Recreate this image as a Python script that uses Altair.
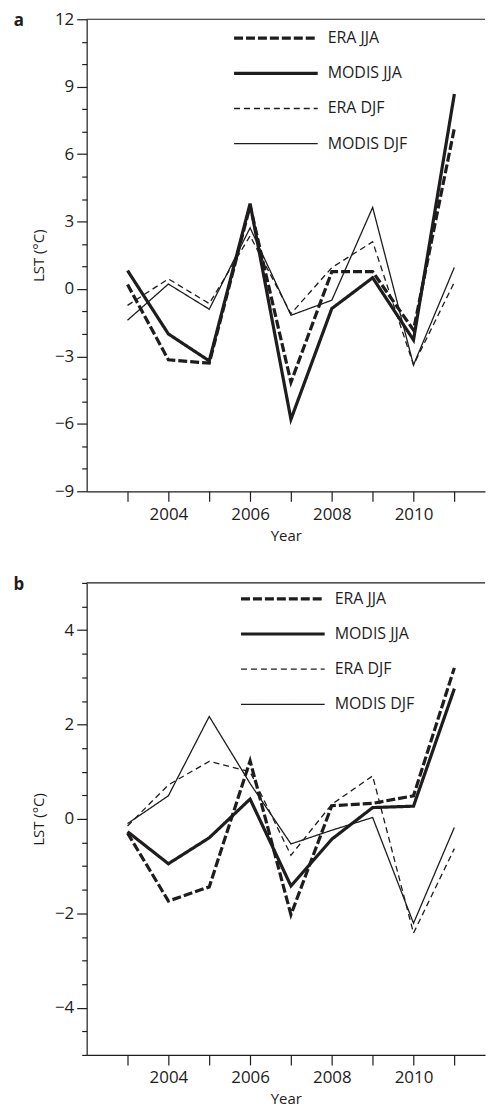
import altair as alt
import pandas as pd

INK = "#1e1c1c"
FONT = "Open Sans"

years = [2003, 2004, 2005, 2006, 2007, 2008, 2009, 2010, 2011]
series = ["ERA JJA", "MODIS JJA", "ERA DJF", "MODIS DJF"]

# panel a
a_era_jja = [0.2, -3.15, -3.3, 3.7, -4.15, 0.77, 0.77, -1.83, 7.15]
a_modis_jja = [0.82, -2.0, -3.2, 3.8, -5.8, -0.87, 0.5, -2.27, 8.67]
a_era_djf = [-0.73, 0.45, -0.65, 2.36, -1.1, 0.95, 2.1, -3.38, 0.3]
a_modis_djf = [-1.39, 0.22, -0.9, 2.72, -1.17, -0.5, 3.63, -3.38, 0.96]

# panel b
b_era_jja = [-0.3, -1.74, -1.44, 1.23, -2.03, 0.28, 0.33, 0.49, 3.2]
b_modis_jja = [-0.27, -0.95, -0.4, 0.42, -1.42, -0.43, 0.24, 0.27, 2.76]
b_era_djf = [-0.15, 0.72, 1.22, 1.0, -0.77, 0.31, 0.91, -2.42, -0.63]
b_modis_djf = [-0.1, 0.49, 2.17, 0.75, -0.53, -0.24, 0.03, -2.21, -0.18]

a_ticks = list(range(-9, 13))
b_ticks = [v / 2 for v in range(-10, 11)]

W = 400
H = 474

DASH = alt.Scale(domain=series, range=[[9, 3], [1, 0], [6, 4], [1, 0]])
WIDTH_EXPR = "indexof(datum.series, 'JJA') >= 0 ? 3.2 : 1.3"


def frame(vals):
    rows = []
    for name, arr in zip(series, vals):
        for yr, v in zip(years, arr):
            rows.append({"year": yr, "value": v, "series": name})
    return pd.DataFrame(rows)


def panel(df, domain, ticks, major, tag, lx, ly):
    base = alt.Chart(df).transform_calculate(w=WIDTH_EXPR)
    lines = base.mark_line(color=INK, strokeJoin="miter", strokeCap="butt").encode(
        x=alt.X(
            "year:Q",
            scale=alt.Scale(domain=[2002, 2011.75], nice=False, zero=False),
            axis=alt.Axis(
                values=years,
                labelExpr="datum.value % 2 == 0 ? '' + datum.value : ''",
                title="Year",
                tickSize=10,
                labelPadding=5,
                titlePadding=6,
                grid=False,
            ),
        ),
        y=alt.Y(
            "value:Q",
            scale=alt.Scale(domain=domain, nice=False, zero=False),
            axis=alt.Axis(
                values=ticks,
                labelExpr=f"datum.value % {major} == 0 ? format(datum.value, 'd') : ''",
                title="LST (°C)",
                tickSize={"condition": {"test": f"datum.value % {major} == 0", "value": 10}, "value": 5},
                labelPadding=3,
                titlePadding=8,
                grid=False,
            ),
        ),
        strokeDash=alt.StrokeDash("series:N", scale=DASH, legend=None),
        strokeWidth=alt.StrokeWidth("w:Q", scale=None, legend=None),
        order="year:Q",
    )

    # key drawn inside the plot
    key_df = pd.DataFrame({"series": series, "slot": list(range(len(series)))})
    key = alt.Chart(key_df).transform_calculate(
        w=WIDTH_EXPR, ky=f"{ly} + datum.slot * 35.3"
    )
    key_lines = key.mark_rule(color=INK, strokeCap="butt").encode(
        x=alt.value(lx),
        x2=alt.value(lx + 84),
        y=alt.Y("ky:Q", scale=None, axis=None),
        strokeDash=alt.StrokeDash("series:N", scale=DASH, legend=None),
        strokeWidth=alt.StrokeWidth("w:Q", scale=None, legend=None),
    )
    key_text = key.mark_text(
        font=FONT, fontSize=16, color=INK, align="left", baseline="middle"
    ).encode(
        x=alt.value(lx + 94),
        y=alt.Y("ky:Q", scale=None, axis=None),
        text="series:N",
    )

    top = alt.Chart(pd.DataFrame({"k": [0]})).mark_rule(color=INK, strokeWidth=1.2).encode(
        x=alt.value(0), x2=alt.value(W), y=alt.value(0)
    )
    lab = alt.Chart(pd.DataFrame({"t": [tag]})).mark_text(
        font=FONT, fontSize=17, fontWeight="bold", color=INK, align="center", baseline="middle"
    ).encode(text="t:N", x=alt.value(-68), y=alt.value(2))
    return alt.layer(lines, key_lines, key_text, top, lab).properties(width=W, height=H)


pa = panel(frame([a_era_jja, a_modis_jja, a_era_djf, a_modis_djf]), [-9, 12], a_ticks, 3, "a", 148, 19)
pb = panel(frame([b_era_jja, b_modis_jja, b_era_djf, b_modis_djf]), [-5, 5], b_ticks, 2, "b", 155, 16)

chart = (
    alt.vconcat(pa, pb, spacing=33)
    .properties(padding={"left": 5, "top": 0, "right": 0, "bottom": 0})
    .configure_view(stroke=None)
    .configure_axis(
        domainColor=INK,
        domainWidth=1.2,
        tickColor=INK,
        tickWidth=1.2,
        labelFont=FONT,
        labelFontSize=17,
        labelColor=INK,
        titleFont=FONT,
        titleFontSize=15,
        titleFontWeight="normal",
        titleColor=INK,
    )
)

chart.save("out.html", embed_options={"renderer": "svg", "actions": False})
